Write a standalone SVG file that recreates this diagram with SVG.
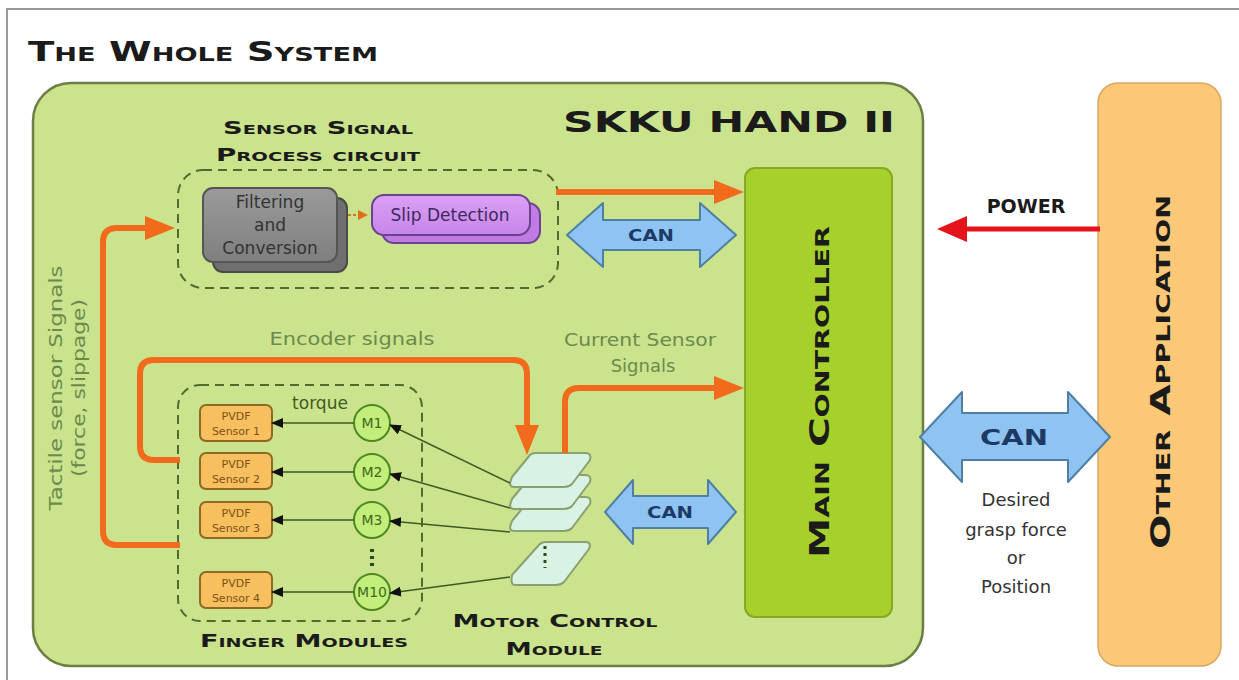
<svg xmlns="http://www.w3.org/2000/svg" width="1239" height="680" viewBox="0 0 1239 680">
<style>
.sc{font-family:"DejaVu Sans",sans-serif;font-weight:bold;font-variant:small-caps;fill:#1b1b1b}
.lbl{font-family:"DejaVu Sans","Liberation Sans",sans-serif;fill:#6b8a4c}
.orange{fill:none;stroke:#f26a1b;stroke-width:6;stroke-linejoin:round}
.thin{fill:none;stroke:#3d5a25;stroke-width:1.5}
.can{fill:#8fc4f2;stroke:#4f7fa3;stroke-width:2;stroke-linejoin:round}
.cantext{font-family:"DejaVu Sans",sans-serif;font-weight:bold;fill:#1d3a66;text-anchor:middle}
.pvdf rect{fill:#f8bf5f;stroke:#8c6a24;stroke-width:2}
.pvdf text{font-family:"DejaVu Sans",sans-serif;font-size:11px;fill:#7a5216;text-anchor:middle}
.motor circle{fill:#c3ee7c;stroke:#4e8a22;stroke-width:2}
.motor text{font-family:"DejaVu Sans",sans-serif;font-size:14px;fill:#3e6a1a;text-anchor:middle}
.card{fill:#d8f3e4;stroke:#8aa070;stroke-width:2;stroke-linejoin:round}
.dash{fill:none;stroke:#4f6b2f;stroke-width:2;stroke-dasharray:9 6}
.mid{text-anchor:middle}
</style>
<defs>
<marker id="ao" markerUnits="userSpaceOnUse" markerWidth="30" markerHeight="24" viewBox="0 0 30 24" refX="8" refY="12" orient="auto"><path d="M0,0 L30,12 L0,24 z" fill="#f26a1b"/></marker>
<marker id="ar" markerUnits="userSpaceOnUse" markerWidth="30" markerHeight="26" viewBox="0 0 30 26" refX="8" refY="13" orient="auto"><path d="M0,0 L30,13 L0,26 z" fill="#e3141b"/></marker>
<marker id="ab" markerUnits="userSpaceOnUse" markerWidth="12" markerHeight="10" viewBox="0 0 12 10" refX="11" refY="5" orient="auto"><path d="M0,0 L12,5 L0,10 z" fill="#111"/></marker>
<marker id="ad" markerUnits="userSpaceOnUse" markerWidth="10" markerHeight="10" viewBox="0 0 10 10" refX="8" refY="5" orient="auto"><path d="M0,0 L10,5 L0,10 z" fill="#e0701a"/></marker>
<linearGradient id="gray" x1="0" y1="0" x2="0" y2="1"><stop offset="0" stop-color="#9a9a9a"/><stop offset="1" stop-color="#7f7f7f"/></linearGradient>
<linearGradient id="purp" x1="0" y1="0" x2="0" y2="1"><stop offset="0" stop-color="#dca0f4"/><stop offset="1" stop-color="#c585ea"/></linearGradient>
</defs>

<path d="M7,680 V9 H1239" fill="none" stroke="#9a9a9a" stroke-width="2"/>
<text class="sc" x="28" y="61" font-size="27" textLength="350" lengthAdjust="spacingAndGlyphs">The Whole System</text>

<g id="skku-hand">
<rect x="33" y="83" width="890" height="583" rx="38" fill="#cae38c" stroke="#6d7e44" stroke-width="2.5"/>
<text class="sc" x="563" y="132" font-size="29" textLength="332" lengthAdjust="spacingAndGlyphs">SKKU HAND II</text>
</g>

<g id="sensor-circuit">
<rect class="dash" x="178" y="170" width="380" height="118" rx="25"/>
<text class="sc mid" x="318" y="134" font-size="17" textLength="190" lengthAdjust="spacingAndGlyphs">Sensor Signal</text>
<text class="sc mid" x="318" y="161" font-size="17" textLength="204" lengthAdjust="spacingAndGlyphs">Process circuit</text>
</g>

<g id="filtering">
<rect x="213" y="198" width="134" height="74" rx="10" fill="#6f6f6f" stroke="#4a4a4a" stroke-width="2"/>
<rect x="203" y="188" width="134" height="74" rx="10" fill="url(#gray)" stroke="#555" stroke-width="2"/>
<text font-family="DejaVu Sans, sans-serif" font-size="17" fill="#333" text-anchor="middle"><tspan x="270" y="208">Filtering</tspan><tspan x="270" y="231">and</tspan><tspan x="270" y="254">Conversion</tspan></text>
</g>

<g id="slip">
<rect x="382" y="203" width="158" height="40" rx="12" fill="#c07ce4" stroke="#6b4290" stroke-width="2"/>
<rect x="372" y="195" width="158" height="40" rx="12" fill="url(#purp)" stroke="#6b4290" stroke-width="2"/>
<text x="450" y="221" font-family="DejaVu Sans, sans-serif" font-size="17" fill="#3b2a5c" text-anchor="middle">Slip Detection</text>
</g>

<g id="main-controller">
<rect x="745" y="168" width="147" height="449" rx="10" fill="#a6d02b" stroke="#87a820" stroke-width="2"/>
<text class="sc mid" transform="translate(829,392) rotate(-90)" font-size="27" textLength="332" lengthAdjust="spacingAndGlyphs">Main Controller</text>
</g>

<g id="other-application">
<rect x="1098" y="83" width="123" height="583" rx="20" fill="#fbc878" stroke="#d9a860" stroke-width="1.5"/>
<text class="sc mid" transform="translate(1170,372) rotate(-90)" font-size="27" textLength="354" lengthAdjust="spacingAndGlyphs">Other Application</text>
</g>

<g id="finger-modules">
<rect class="dash" x="178" y="385" width="244" height="236" rx="22"/>
<text class="sc mid" x="304" y="647" font-size="17" textLength="208" lengthAdjust="spacingAndGlyphs">Finger Modules</text>
<text x="320" y="409" font-family="DejaVu Sans, sans-serif" font-size="17" fill="#3e5a28" text-anchor="middle">torque</text>
</g>

<g id="pvdf-sensors" class="pvdf">
<g id="pvdf1"><rect x="200" y="405" width="72" height="36" rx="6"/><text x="236" y="420">PVDF</text><text x="236" y="435">Sensor 1</text></g>
<g id="pvdf2"><rect x="200" y="453" width="72" height="36" rx="6"/><text x="236" y="468">PVDF</text><text x="236" y="483">Sensor 2</text></g>
<g id="pvdf3"><rect x="200" y="502" width="72" height="36" rx="6"/><text x="236" y="517">PVDF</text><text x="236" y="532">Sensor 3</text></g>
<g id="pvdf4"><rect x="200" y="572" width="72" height="36" rx="6"/><text x="236" y="587">PVDF</text><text x="236" y="602">Sensor 4</text></g>
</g>

<g id="motors" class="motor">
<g id="m1"><circle cx="372" cy="423" r="18"/><text x="372" y="428">M1</text></g>
<g id="m2"><circle cx="372" cy="472" r="18"/><text x="372" y="477">M2</text></g>
<g id="m3"><circle cx="372" cy="520" r="18"/><text x="372" y="525">M3</text></g>
<g id="m10"><circle cx="372" cy="592" r="18"/><text x="372" y="597">M10</text></g>
<line x1="372" y1="549" x2="372" y2="568" stroke="#2e4a18" stroke-width="4" stroke-dasharray="3 4"/>
</g>

<g id="motor-control-module">
<path class="card" d="M512,575 L538,546 Q541,542 546,542 H585 Q592,542 589,549 L564,582 Q561,585 556,585 H515 Q510,585 512,575 Z"/>
<path class="card" d="M512,521 L530,499 Q532,497 536,497 H585 Q592,497 590,504 L572,528 Q569,531 564,531 H514 Q510,531 510,527 Z"/>
<path class="card" d="M512,499 L530,477 Q532,475 536,475 H585 Q592,475 590,482 L572,506 Q569,509 564,509 H514 Q510,509 510,505 Z"/>
<path class="card" d="M512,477 L530,455 Q532,453 536,453 H585 Q592,453 590,460 L572,484 Q569,487 564,487 H514 Q510,487 510,483 Z"/>
<line x1="545" y1="546" x2="545" y2="568" stroke="#2e4a18" stroke-width="3" stroke-dasharray="3 4"/>
<text class="sc mid" x="555" y="627" font-size="17" textLength="205" lengthAdjust="spacingAndGlyphs">Motor Control</text>
<text class="sc mid" x="554" y="655" font-size="17" textLength="97" lengthAdjust="spacingAndGlyphs">Module</text>
</g>

<g id="connectors">
<path class="orange" d="M556,192 H722" marker-end="url(#ao)"/>
<path class="orange" d="M180,545 H117 Q103,545 103,531 V242 Q103,228 117,228 H153" marker-end="url(#ao)"/>
<path class="orange" d="M180,460 H154 Q140,460 140,446 V374 Q140,360 154,360 H513 Q527,360 527,374 V433" marker-end="url(#ao)"/>
<path class="orange" d="M565,453 V402 Q565,388 579,388 H722" marker-end="url(#ao)"/>
<path d="M1100,229 H959" fill="none" stroke="#e3141b" stroke-width="5" marker-end="url(#ar)"/>
<path d="M348,215 H366" fill="none" stroke="#e0701a" stroke-width="2" stroke-dasharray="3 2" marker-end="url(#ad)"/>
<path class="thin" d="M354,423 H272" marker-end="url(#ab)"/>
<path class="thin" d="M354,472 H272" marker-end="url(#ab)"/>
<path class="thin" d="M354,520 H272" marker-end="url(#ab)"/>
<path class="thin" d="M354,592 H272" marker-end="url(#ab)"/>
<path class="thin" d="M510,483 L390,425" marker-end="url(#ab)"/>
<path class="thin" d="M510,508 L390,474" marker-end="url(#ab)"/>
<path class="thin" d="M510,532 L390,521" marker-end="url(#ab)"/>
<path class="thin" d="M510,577 L390,593" marker-end="url(#ab)"/>
<g id="can-top"><path class="can" d="M567,235 L603,203 V220 H700 V203 L736,235 L700,267 V250 H603 V267 Z"/><text class="cantext" x="651" y="241" font-size="16" textLength="46" lengthAdjust="spacingAndGlyphs">CAN</text></g>
<g id="can-mid"><path class="can" d="M605,512 L633,480 V496 H708 V480 L736,512 L708,544 V528 H633 V544 Z"/><text class="cantext" x="670" y="518" font-size="16" textLength="46" lengthAdjust="spacingAndGlyphs">CAN</text></g>
<g id="can-big"><path class="can" d="M920,437 L962,392 V413 H1068 V392 L1110,437 L1068,482 V460 H962 V482 Z"/><text class="cantext" x="1014" y="445" font-size="22" textLength="68" lengthAdjust="spacingAndGlyphs">CAN</text></g>
</g>

<g id="labels">
<text class="lbl mid" x="352" y="345" font-size="18" textLength="165" lengthAdjust="spacingAndGlyphs">Encoder signals</text>
<text class="lbl mid" font-size="18"><tspan x="640" y="346" textLength="152" lengthAdjust="spacingAndGlyphs">Current Sensor</tspan><tspan x="643" y="372">Signals</tspan></text>
<text class="lbl mid" transform="translate(62,388) rotate(-90)" font-size="18" textLength="245" lengthAdjust="spacingAndGlyphs">Tactile sensor Signals</text>
<text class="lbl mid" transform="translate(85,388) rotate(-90)" font-size="18" textLength="178" lengthAdjust="spacingAndGlyphs">(force, slippage)</text>
<text x="1026" y="213" font-family="DejaVu Sans, sans-serif" font-weight="bold" font-size="19" fill="#1b1b1b" text-anchor="middle">POWER</text>
<text font-family="DejaVu Sans, sans-serif" font-size="18" fill="#333" text-anchor="middle"><tspan x="1016" y="506">Desired</tspan><tspan x="1016" y="536">grasp force</tspan><tspan x="1016" y="564">or</tspan><tspan x="1016" y="593">Position</tspan></text>
</g>
</svg>
